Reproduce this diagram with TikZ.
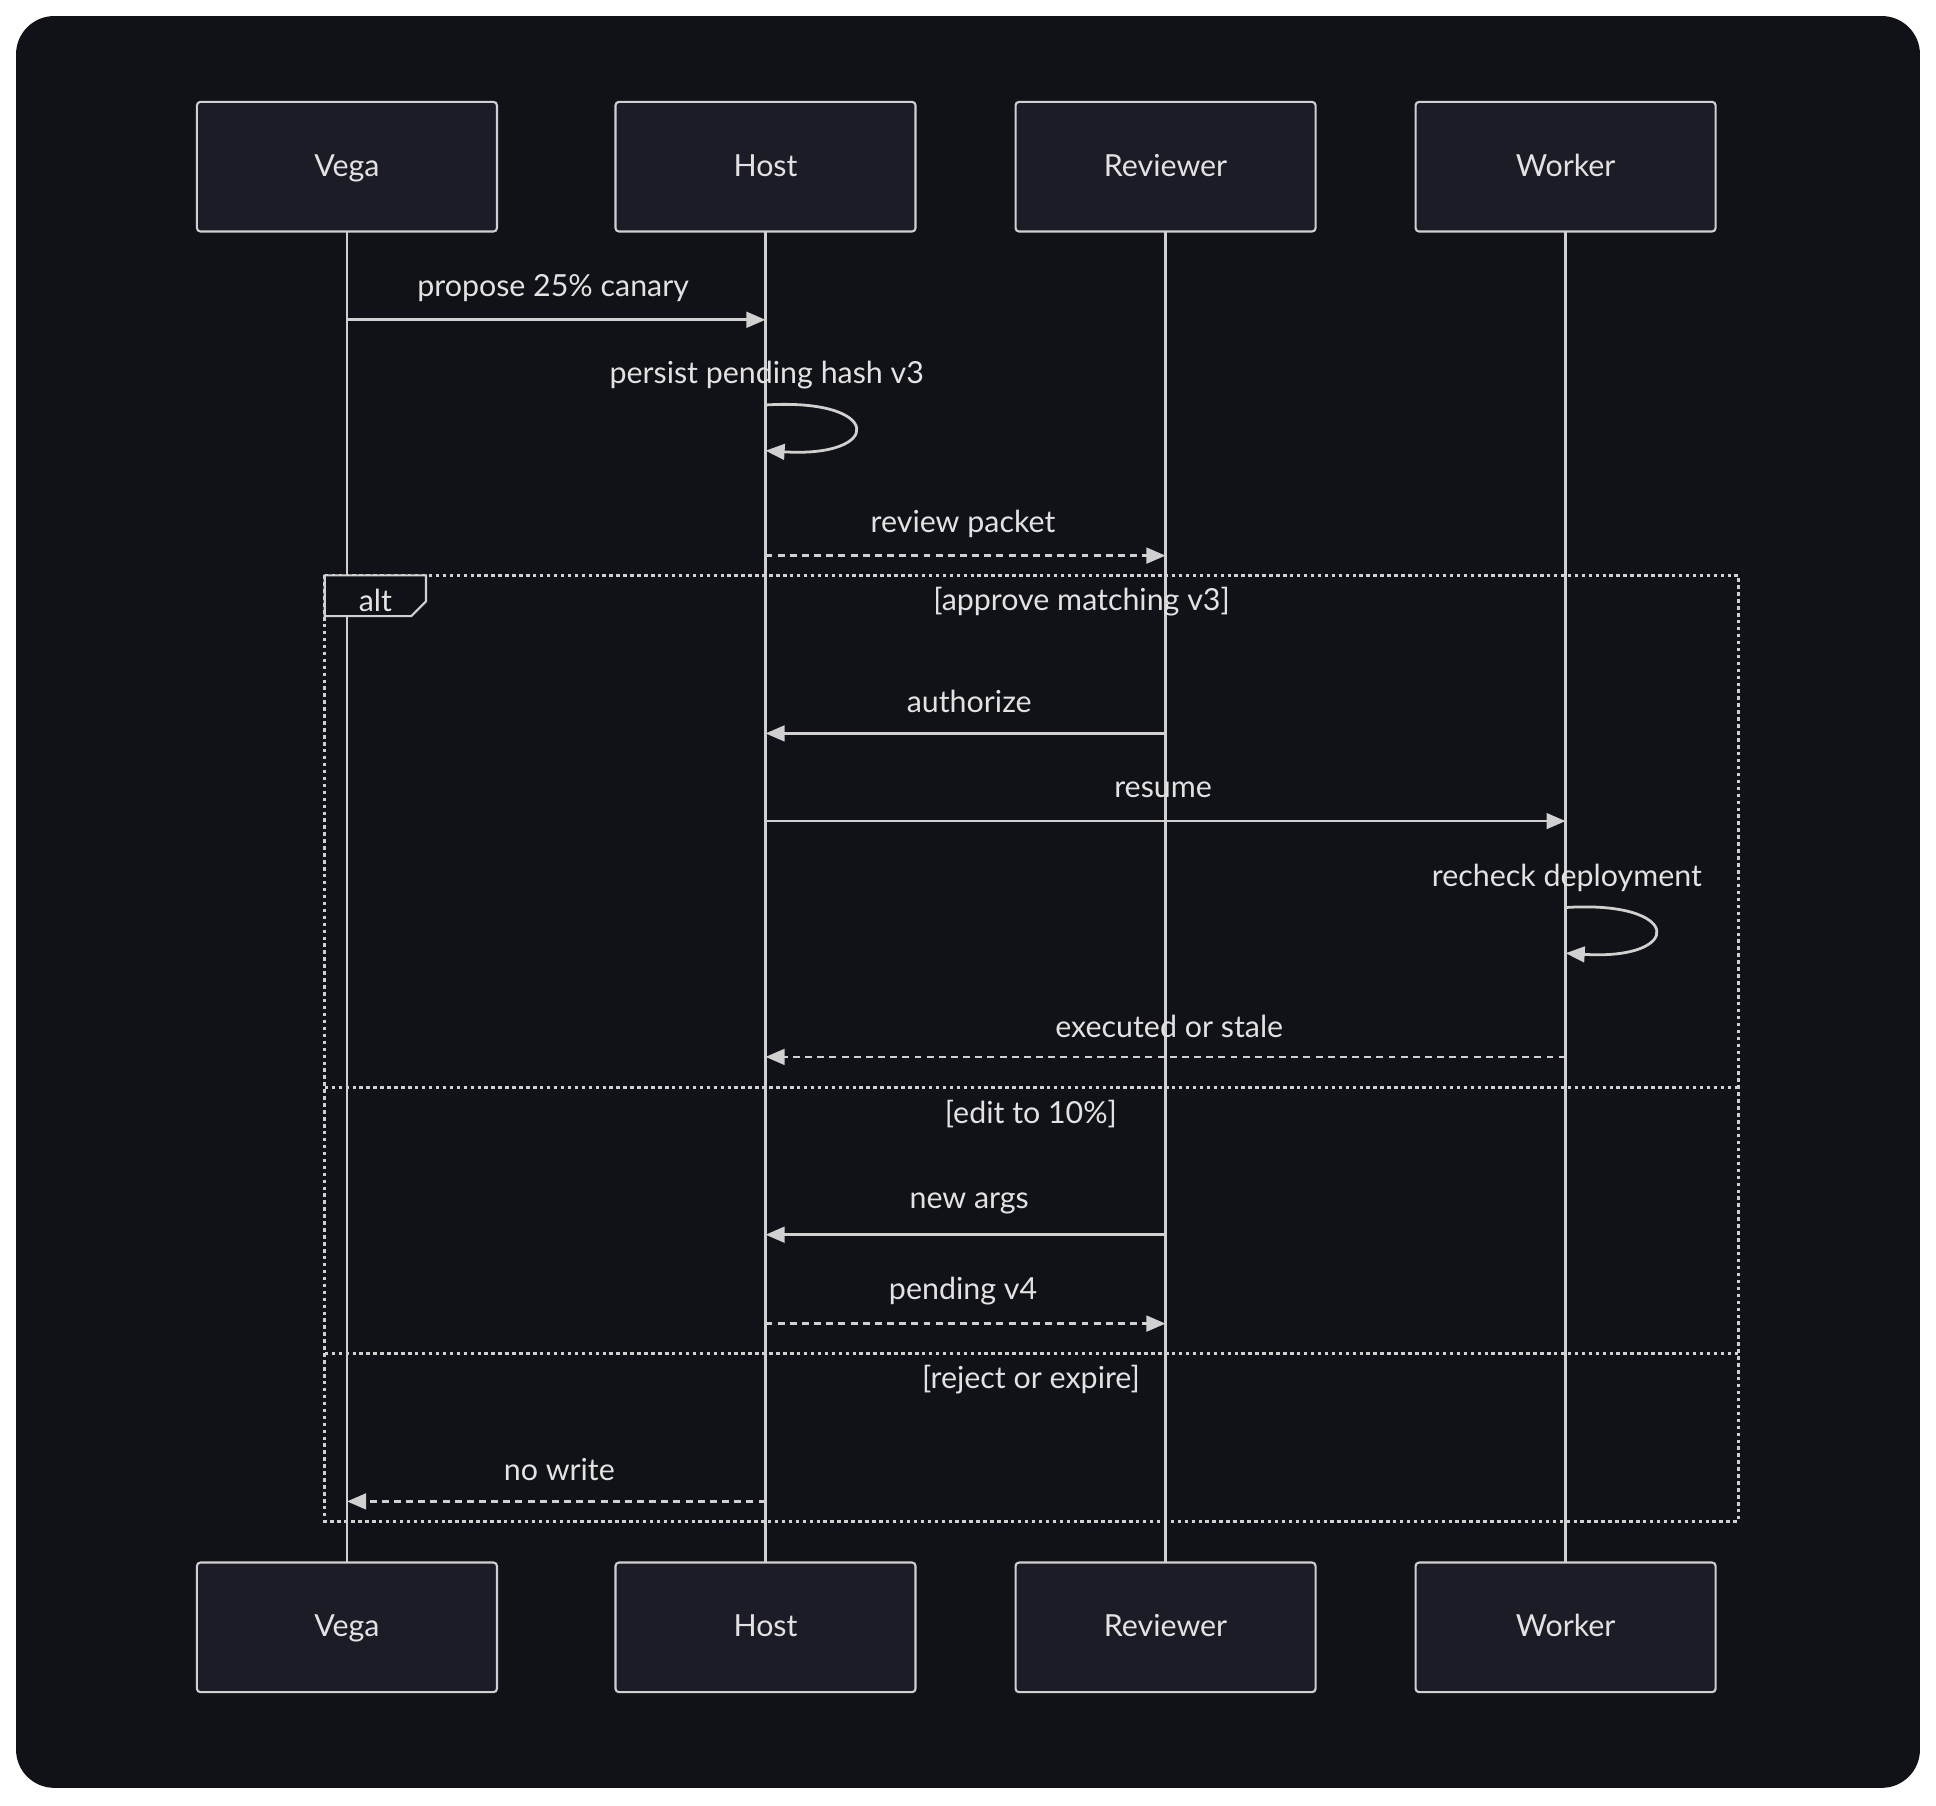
\documentclass[tikz,border=0pt]{standalone}
\usepackage{fontspec}
\setmainfont{Lato}
\usetikzlibrary{arrows.meta}
\definecolor{bg}{HTML}{111218}
\definecolor{boxf}{HTML}{1C1C26}
\definecolor{ln}{HTML}{D0D0D0}
\definecolor{tx}{HTML}{E2E2E2}
\begin{document}
\begin{tikzpicture}[x=0.025cm,y=-0.025cm,
  actor/.style={draw=ln,fill=boxf,line width=1.2pt,rounded corners=2pt,minimum width=243*0.025cm,minimum height=105*0.025cm,text=tx,font=\fontsize{17.5}{20}\selectfont,text height=2.4ex,text depth=0.25ex},
  life/.style={ln,line width=1.6pt},
  msg/.style={ln,line width=1.6pt,-{Triangle[length=11pt,width=9pt]}},
  dmsg/.style={msg,dash pattern=on 4pt off 3pt},
  lbl/.style={text=tx,font=\fontsize{17.5}{20}\selectfont,inner sep=0pt},
  frame/.style={ln,line width=1.6pt,dash pattern=on 2pt off 2pt}]
\useasboundingbox (0,0) rectangle (1568,1462);
\fill[white] (0,0) rectangle (1568,1462);
\fill[bg,rounded corners=22pt] (13,13) rectangle (1555,1448);
% lifelines
\foreach \n/\x in {v/281,h/620,r/944,w/1268}{
  \coordinate (\n t) at (\x,187); \coordinate (\n b) at (\x,1265);
  \draw[life] (\n t) -- (\n b);}
\node[actor] (v1) at (281,135) {Vega};
\node[actor] (h1) at (620,135) {Host};
\node[actor] (r1) at (944,135) {Reviewer};
\node[actor] (w1) at (1268,135) {Worker};
\node[actor] (v2) at (281,1318) {Vega};
\node[actor] (h2) at (620,1318) {Host};
\node[actor] (r2) at (944,1318) {Reviewer};
\node[actor] (w2) at (1268,1318) {Worker};
% frame
\draw[frame] (263,466) rectangle (1408,1232);
\draw[frame] (263,881) -- (1408,881);
\draw[frame] (263,1096) -- (1408,1096);
\draw[ln,line width=1.2pt,fill=bg] (263,466) -- (345,466) -- (345,487) -- (333,499) -- (263,499) -- cycle;
\node[lbl] (alt) at (304,486) {alt};
\node[lbl] (g1) at (876,487) {[approve matching v3]};
\node[lbl] (g2) at (835,902) {[edit to 10\%]};
\node[lbl] (g3) at (835,1117) {[reject or expire]};
% messages
\coordinate (a1) at (281,259); \coordinate (a2) at (620,259);
\draw[msg] (a1) -- (a2); \node[lbl] (l1) at (448,233) {propose 25\% canary};
\coordinate (s1) at (620,328); \coordinate (s2) at (620,365);
\draw[msg] (s1) .. controls (716,322) and (716,371) .. (s2);
\node[lbl] (l2) at (621,304) {persist pending hash v3};
\coordinate (b1) at (620,450); \coordinate (b2) at (944,450);
\draw[dmsg] (b1) -- (b2); \node[lbl] (l3) at (780,424) {review packet};
\coordinate (c1) at (944,594); \coordinate (c2) at (620,594);
\draw[msg] (c1) -- (c2); \node[lbl] (l4) at (785,568) {authorize};
\coordinate (d1) at (620,665); \coordinate (d2) at (1268,665);
\draw[msg] (d1) -- (d2); \node[lbl] (l5) at (942,640) {resume};
\coordinate (e1) at (1268,735); \coordinate (e2) at (1268,772);
\draw[msg] (e1) .. controls (1364,729) and (1364,778) .. (e2);
\node[lbl] (l6) at (1269,711) {recheck deployment};
\coordinate (f1) at (1268,856); \coordinate (f2) at (620,856);
\draw[dmsg] (f1) -- (f2); \node[lbl] (l7) at (947,831) {executed or stale};
\coordinate (g1a) at (944,1000); \coordinate (g2a) at (620,1000);
\draw[msg] (g1a) -- (g2a); \node[lbl] (l8) at (785,975) {new args};
\coordinate (h1a) at (620,1072); \coordinate (h2a) at (944,1072);
\draw[dmsg] (h1a) -- (h2a); \node[lbl] (l9) at (780,1046) {pending v4};
\coordinate (i1) at (620,1216); \coordinate (i2) at (281,1216);
\draw[dmsg] (i1) -- (i2); \node[lbl] (l10) at (453,1190) {no write};
\end{tikzpicture}
\end{document}
